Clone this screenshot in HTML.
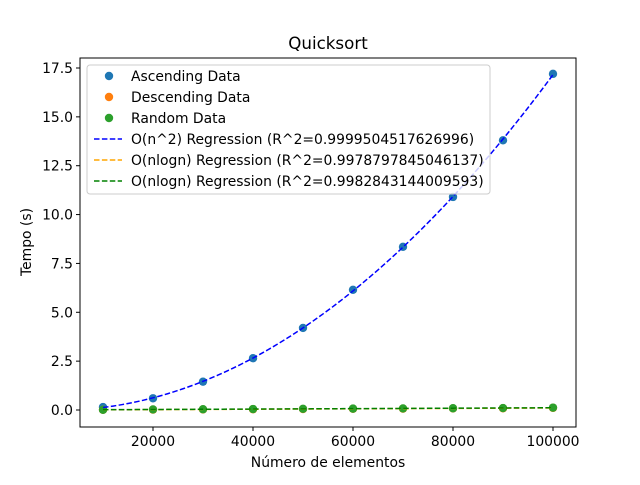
<!DOCTYPE html>
<html><head><meta charset="utf-8"><style>
body{margin:0;background:#fff;}
svg text{font-family:"DejaVu Sans","Liberation Sans",sans-serif;fill:#000;}
</style></head><body>
<svg id="chart" width="640" height="480" xmlns="http://www.w3.org/2000/svg">
<rect width="640" height="480" fill="#fff"/>
<text x="328" y="49" font-size="16.7" text-anchor="middle">Quicksort</text>
<g id="plot"></g>
<rect x="80" y="58" width="496" height="369" fill="none" stroke="#000" stroke-width="1"/>
<g id="axes"></g>
<text x="328" y="467" font-size="13.9" text-anchor="middle">Número de elementos</text>
<text transform="translate(31,242) rotate(-90)" font-size="13.9" text-anchor="middle">Tempo (s)</text>
<g id="legend"></g>
</svg>
<script>
const sizes=[10000,20000,30000,40000,50000,60000,70000,80000,90000,100000];
const ascending=[0.15,0.6,1.45,2.65,4.2,6.15,8.35,10.9,13.8,17.2];
const descending=[0.01,0.02,0.03,0.04,0.05,0.06,0.07,0.08,0.09,0.11];
const random=[0.01,0.03,0.04,0.05,0.06,0.07,0.08,0.09,0.1,0.12];
const xTicks=[20000,40000,60000,80000,100000];
const yTicks=[0,2.5,5,7.5,10,12.5,15,17.5];
const legendLabels=["Ascending Data","Descending Data","Random Data","O(n^2) Regression (R^2=0.9999504517626996)","O(nlogn) Regression (R^2=0.9978797845046137)","O(nlogn) Regression (R^2=0.9982843144009593)"];
const NS="http://www.w3.org/2000/svg";
const X=v=>103+(v-10000)*0.005;
const Y=v=>410-v*19.543;
function mk(t,a,p){const e=document.createElementNS(NS,t);for(const k in a)e.setAttribute(k,a[k]);p.appendChild(e);return e;}
const plot=document.getElementById('plot'),axes=document.getElementById('axes'),leg=document.getElementById('legend');
xTicks.forEach(v=>{const g=mk('g',{},axes);


mk('line',{x1:X(v),x2:X(v),y1:427,y2:431,stroke:'#000'},g);
const t=mk('text',{x:X(v),y:446,'font-size':13.9,'text-anchor':'middle'},g);t.textContent=v;});
yTicks.forEach(v=>{const g=mk('g',{},axes);


mk('line',{x1:76,x2:80,y1:Y(v),y2:Y(v),stroke:'#000'},g);
const t=mk('text',{x:73,y:Y(v)+5,'font-size':13.9,'text-anchor':'end'},g);t.textContent=v.toFixed(1);});
function fit(basis,ys){const m=basis.length;const A=[],b=[];
for(let i=0;i<m;i++){A.push(new Array(m).fill(0));b.push(0);}
sizes.forEach((n,k)=>{const f=basis.map(fn=>fn(n));for(let i=0;i<m;i++){b[i]+=f[i]*ys[k];for(let j=0;j<m;j++)A[i][j]+=f[i]*f[j];}});
for(let i=0;i<m;i++){for(let r=i+1;r<m;r++){const c=A[r][i]/A[i][i];for(let j=i;j<m;j++)A[r][j]-=c*A[i][j];b[r]-=c*b[i];}}
const c=new Array(m);for(let i=m-1;i>=0;i--){let s=b[i];for(let j=i+1;j<m;j++)s-=A[i][j]*c[j];c[i]=s/A[i][i];}
return n=>basis.reduce((s,fn,i)=>s+c[i]*fn(n),0);}
const quad=fit([n=>1,n=>n/1e5,n=>(n/1e5)**2],ascending);
const nlog=[n=>1,n=>n*Math.log(n)/1e6];
const fD=fit(nlog,descending),fR=fit(nlog,random);
function curve(f,color,name){let d='';for(let n=10000;n<=100000;n+=1000)d+=(d?'L':'M')+X(n).toFixed(2)+','+Y(f(n)).toFixed(2);
const p=mk('path',{d,fill:'none',stroke:color,'stroke-width':1.5,'stroke-dasharray':'5.5,2.4'},plot);

}
function pts(ys,color,name){ys.forEach((v,i)=>{const c=mk('circle',{cx:X(sizes[i]),cy:Y(v),r:4.2,fill:color},plot);

});}
pts(ascending,'#1f77b4','ascending-point');
pts(descending,'#ff7f0e','descending-point');
pts(random,'#2ca02c','random-point');
curve(quad,'#0000ff','n2-regression-line');
curve(fD,'#ffa500','nlogn-descending-regression-line');
curve(fR,'#008000','nlogn-random-regression-line');
mk('rect',{x:87,y:65,width:403,height:129,rx:3,fill:'#fff','fill-opacity':0.8,stroke:'#ccc'},leg);
const lc=['#1f77b4','#ff7f0e','#2ca02c','#0000ff','#ffa500','#008000'];
legendLabels.forEach((lab,i)=>{const y=76+i*21;const g=mk('g',{},leg);


if(i<3)mk('circle',{cx:109,cy:y,r:4.2,fill:lc[i]},g);
else mk('line',{x1:94,x2:122,y1:y,y2:y,stroke:lc[i],'stroke-width':1.5,'stroke-dasharray':'5.5,2.4'},g);
const t=mk('text',{x:131,y:y+5,'font-size':13.9},g);t.textContent=lab;});
</script>
</body></html>
